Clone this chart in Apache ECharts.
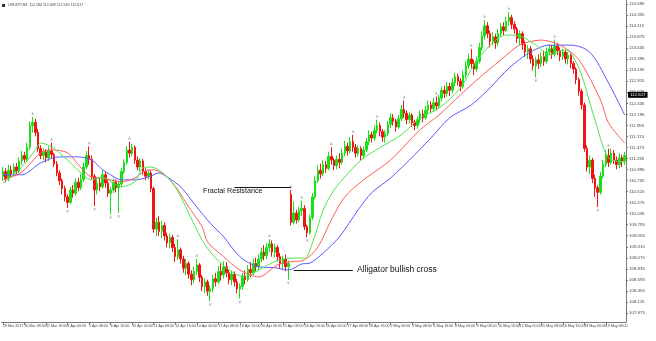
<!DOCTYPE html>
<html><head><meta charset="utf-8">
<script src="https://cdn.jsdelivr.net/npm/echarts@6/dist/echarts.min.js"></script>
<style>html,body{margin:0;padding:0;background:#fff}#c{width:656px;height:341px}</style>
</head><body><div id="c"></div>
<script>
// [open, close, low, high] per H4 bar
const candles = [
[110.85,110.95,110.75,111.05],[110.95,110.80,110.72,111.02],[110.80,110.98,110.74,111.10],[110.98,110.90,110.82,111.08],
[110.90,111.05,110.85,111.12],[111.05,110.96,110.90,111.14],[110.96,111.18,110.92,111.26],[111.18,111.30,111.10,111.40],
[111.30,111.22,111.15,111.38],[111.22,111.48,111.18,111.58],[111.48,111.95,111.42,112.05],[111.95,112.02,111.80,112.14],
[112.02,111.80,111.72,112.10],[111.80,111.45,111.38,111.88],[111.45,111.30,111.22,111.52],[111.30,111.38,111.20,111.46],
[111.38,111.25,111.15,111.44],[111.25,111.40,111.18,111.50],[111.40,111.32,111.24,111.58],[111.32,111.12,111.05,111.36],
[111.12,110.92,110.85,111.18],[110.92,110.75,110.66,110.98],[110.75,110.58,110.45,110.80],[110.58,110.40,110.30,110.64],
[110.40,110.28,110.16,110.46],[110.28,110.55,110.24,110.62],[110.55,110.48,110.38,110.66],[110.48,110.72,110.42,110.80],
[110.72,110.60,110.52,110.82],[110.60,110.78,110.55,110.90],[110.78,111.05,110.72,111.15],[111.05,111.30,111.00,111.40],
[111.30,111.22,111.10,111.50],[111.22,110.85,110.78,111.30],[110.85,110.55,110.20,110.90],[110.55,110.70,110.45,110.80],
[110.70,110.62,110.52,110.82],[110.62,110.88,110.58,110.98],[110.88,110.70,110.60,110.95],[110.70,110.48,110.40,110.76],
[110.48,110.55,110.02,110.62],[110.55,110.72,110.48,110.80],[110.72,110.60,110.50,110.78],[110.60,110.68,110.05,110.75],
[110.68,110.95,110.62,111.02],[110.95,111.15,110.90,111.22],[111.15,111.42,111.10,111.50],[111.42,111.35,111.25,111.60],
[111.35,111.48,111.28,111.55],[111.48,111.20,111.12,111.52],[111.20,111.05,110.98,111.28],[111.05,111.18,110.96,111.24],
[111.18,110.95,110.88,111.22],[110.95,110.85,110.76,111.02],[110.85,110.92,110.78,111.00],[110.92,110.58,110.50,110.98],
[110.58,109.70,109.62,110.62],[109.70,109.85,109.55,109.95],[109.85,109.65,109.55,109.98],[109.65,109.78,109.50,109.88],
[109.78,109.55,109.45,109.85],[109.55,109.40,109.30,109.62],[109.40,109.52,109.28,109.60],[109.52,109.30,109.20,109.58],
[109.30,109.10,108.98,109.38],[109.10,109.25,109.02,109.48],[109.25,109.05,108.95,109.30],[109.05,108.85,108.75,109.12],
[108.85,108.95,108.70,109.05],[108.95,108.72,108.62,109.00],[108.72,108.60,108.48,108.80],[108.60,108.78,108.52,108.88],
[108.78,108.92,108.70,109.05],[108.92,108.65,108.55,108.96],[108.65,108.45,108.35,108.70],[108.45,108.55,108.30,108.62],
[108.55,108.35,108.25,108.60],[108.35,108.40,108.13,108.48],[108.40,108.62,108.32,108.70],[108.62,108.55,108.45,108.75],
[108.55,108.78,108.50,108.90],[108.78,108.70,108.58,108.95],[108.70,108.88,108.62,109.00],[108.88,108.75,108.65,108.98],
[108.75,108.60,108.50,108.82],[108.60,108.72,108.48,108.80],[108.72,108.55,108.45,108.78],[108.55,108.40,108.30,108.62],
[108.40,108.45,108.19,108.52],[108.45,108.68,108.38,108.75],[108.68,108.60,108.50,108.80],[108.60,108.82,108.55,108.92],
[108.82,108.75,108.65,108.98],[108.75,108.95,108.70,109.05],[108.95,108.88,108.78,109.08],[108.88,109.05,108.80,109.15],
[109.05,109.20,108.98,109.30],[109.20,109.12,109.02,109.35],[109.12,109.30,109.05,109.40],[109.30,109.38,109.20,109.48],
[109.38,109.20,109.10,109.45],[109.20,109.30,109.08,109.38],[109.30,109.10,109.00,109.35],[109.10,108.95,108.85,109.18],
[108.95,109.05,108.82,109.12],[109.05,108.88,108.78,109.15],[108.88,108.95,108.60,109.02],[110.45,109.85,109.78,110.55],
[109.85,110.05,109.80,110.30],[110.05,109.90,109.82,110.12],[109.90,110.10,109.85,110.18],[110.10,110.15,109.98,110.32],
[110.15,109.75,109.68,110.22],[109.75,109.62,109.52,109.80],[109.62,109.95,109.58,110.02],[109.95,110.40,109.90,110.48],
[110.40,110.75,110.35,110.85],[110.75,110.98,110.70,111.08],[110.98,110.90,110.80,111.12],[110.90,111.10,110.85,111.20],
[111.10,111.02,110.92,111.18],[111.02,111.28,110.98,111.38],[111.28,111.20,111.10,111.48],[111.20,111.08,110.98,111.25],
[111.08,111.22,111.00,111.30],[111.22,111.15,111.02,111.35],[111.15,111.35,111.10,111.45],[111.35,111.50,111.28,111.62],
[111.50,111.40,111.30,111.58],[111.40,111.60,111.35,111.70],[111.60,111.48,111.38,111.75],[111.48,111.35,111.25,111.55],
[111.35,111.45,111.28,111.52],[111.45,111.30,111.18,111.50],[111.30,111.42,111.22,111.50],[111.42,111.60,111.38,111.68],
[111.60,111.75,111.52,111.85],[111.75,111.68,111.58,111.82],[111.68,111.85,111.62,111.95],[111.85,111.95,111.78,112.08],
[111.95,111.82,111.72,112.02],[111.82,111.70,111.60,111.88],[111.70,111.78,111.58,111.85],[111.78,111.98,111.72,112.05],
[111.98,112.12,111.90,112.22],[112.12,112.05,111.95,112.20],[112.05,111.92,111.82,112.10],[111.92,112.10,111.88,112.18],
[112.10,112.30,112.05,112.40],[112.30,112.22,112.12,112.50],[112.22,112.08,111.98,112.28],[112.08,112.18,112.00,112.25],
[112.18,112.02,111.92,112.22],[112.02,111.95,111.85,112.08],[111.95,112.08,111.88,112.15],[112.08,112.20,112.00,112.28],
[112.20,112.12,112.02,112.30],[112.12,112.28,112.08,112.38],[112.28,112.40,112.20,112.50],[112.40,112.32,112.22,112.48],
[112.32,112.45,112.25,112.55],[112.45,112.38,112.28,112.58],[112.38,112.55,112.32,112.62],[112.55,112.72,112.48,112.80],
[112.72,112.65,112.55,112.82],[112.65,112.80,112.58,112.90],[112.80,112.72,112.60,112.88],[112.72,112.88,112.65,112.98],
[112.88,113.02,112.80,113.10],[113.02,112.92,112.82,113.08],[112.92,112.80,112.70,112.98],[112.80,113.05,112.75,113.15],
[113.05,113.25,112.98,113.35],[113.25,113.40,113.18,113.52],[113.40,113.30,113.20,113.62],[113.30,113.18,113.05,113.38],
[113.18,113.35,113.12,113.45],[113.35,113.65,113.30,113.75],[113.65,113.90,113.58,114.00],[113.90,114.12,113.82,114.25],
[114.12,113.95,113.85,114.20],[113.95,113.78,113.65,114.02],[113.78,113.88,113.70,113.98],[113.88,113.75,113.62,113.95],
[113.75,113.95,113.68,114.05],[113.95,114.10,113.88,114.18],[114.10,114.02,113.92,114.20],[114.02,114.22,113.98,114.32],
[114.22,114.30,114.12,114.42],[114.30,114.15,114.05,114.36],[114.15,114.05,113.95,114.22],[114.05,113.85,113.75,114.10],
[113.85,113.95,113.70,114.02],[113.95,113.72,113.60,114.00],[113.72,113.55,113.45,113.80],[113.55,113.62,113.40,113.70],
[113.62,113.40,113.30,113.68],[113.40,113.25,113.15,113.48],[113.25,113.38,113.00,113.45],[113.38,113.30,113.18,113.50],
[113.30,113.45,113.22,113.55],[113.45,113.35,113.25,113.58],[113.35,113.55,113.30,113.65],[113.55,113.62,113.48,113.72],
[113.62,113.50,113.40,113.70],[113.50,113.68,113.45,113.82],[113.68,113.58,113.48,113.75],[113.58,113.45,113.35,113.65],
[113.45,113.55,113.38,113.62],[113.55,113.40,113.30,113.60],[113.40,113.48,113.28,113.55],[113.48,113.30,113.20,113.52],
[113.30,113.18,113.08,113.35],[113.18,112.95,112.85,113.22],[112.95,112.70,112.60,113.00],[112.70,112.40,112.30,112.75],
[112.40,111.45,111.38,112.45],[111.45,111.05,110.95,111.52],[111.05,111.20,110.90,111.30],[111.20,110.80,110.70,111.25],
[110.80,110.60,110.40,110.88],[110.60,110.50,110.18,110.65],[110.50,110.85,110.45,110.95],[110.85,111.10,110.80,111.20],
[111.10,111.30,111.05,111.42],[111.30,111.15,111.05,111.45],[111.15,111.35,111.10,111.45],[111.35,111.20,111.12,111.42],
[111.20,111.10,111.00,111.28],[111.10,111.25,111.02,111.35],[111.25,111.18,111.05,111.32],[111.18,111.30,111.10,111.38]
];

// Alligator lines, read as [bar index, price]
const jaw = [[0,110.88],[7,110.88],[14,111.14],[21,111.27],[28,111.27],[33,111.20],[37,110.99],[40,110.88],[44,110.77],[49,110.77],[54,110.83],[58,110.92],[61,110.83],[66,110.62],[70,110.33],[72,110.18],[77,109.83],[82,109.53],[88,109.10],[95,108.88],[101,108.86],[106,108.81],[111,108.94],[114,108.96],[119,109.18],[125,109.53],[132,110.12],[137,110.49],[144,110.81],[151,111.20],[159,111.68],[166,112.12],[174,112.40],[181,112.77],[188,113.20],[196,113.55],[203,113.70],[211,113.70],[218,113.55],[225,112.88],[231,112.18]];
const teeth = [[0,110.77],[7,110.94],[14,111.36],[18,111.42],[24,111.36],[28,111.10],[33,110.83],[37,110.81],[44,110.73],[49,110.81],[52,110.94],[56,110.99],[61,110.83],[65,110.55],[69,110.18],[74,109.75],[76,109.42],[82,109.10],[88,108.81],[95,108.66],[102,108.92],[107,108.99],[112,109.03],[117,109.31],[122,109.90],[127,110.40],[134,110.77],[144,111.20],[155,111.86],[162,112.18],[170,112.62],[177,112.99],[185,113.38],[192,113.70],[200,113.81],[207,113.70],[214,113.38],[222,112.51],[225,112.01],[231,111.57]];
const lips = [[0,110.70],[7,111.05],[12,111.42],[14,111.57],[18,111.49],[24,111.20],[29,110.92],[33,110.77],[37,110.83],[40,110.73],[44,110.62],[49,110.73],[52,111.03],[55,111.05],[59,110.94],[64,110.62],[69,110.05],[74,109.46],[79,109.07],[85,108.77],[90,108.66],[95,108.81],[101,108.99],[107,109.07],[112,109.07],[115,109.40],[119,110.12],[123,110.55],[127,110.83],[133,111.20],[140,111.47],[148,111.75],[155,112.12],[162,112.33],[170,112.77],[175,113.27],[181,113.70],[187,113.92],[192,113.90],[198,113.70],[203,113.49],[209,113.60],[214,113.20],[220,112.07],[225,111.25],[231,111.16]];

const fractalUp = [[11,112.22],[18,111.66],[32,111.58],[47,111.68],[65,109.56],[72,109.13],[99,109.56],[107,110.63],[111,110.40],[122,111.56],[130,111.83],[139,112.16],[149,112.58],[161,112.66],[174,113.70],[179,114.33],[188,114.50],[205,113.90],[225,111.53]];
const fractalDown = [[24,110.08],[34,110.12],[40,109.94],[43,109.97],[77,108.05],[88,108.11],[106,108.52],[113,109.44],[198,112.92],[221,110.10]];

const yTicks = [107.875,108.115,108.355,108.595,108.835,109.075,109.315,109.555,109.795,110.035,110.275,110.515,110.755,110.995,111.235,111.475,111.715,111.955,112.195,112.435,112.675,112.915,113.155,113.395,113.635,113.875,114.115,114.355,114.595];
const xLabelIndex = [0,8,16,24,32,40,48,56,64,72,80,88,96,104,112,120,128,136,144,152,160,168,176,184,192,200,208,216,224,231];
const xLabelText = ["29 Mar 2017","30 Mar 08:00","31 Mar 16:00","4 Apr 00:00","5 Apr 08:00","6 Apr 16:00","10 Apr 00:00","11 Apr 08:00","12 Apr 16:00","14 Apr 00:00","17 Apr 08:00","18 Apr 16:00","20 Apr 00:00","21 Apr 08:00","24 Apr 16:00","26 Apr 00:00","27 Apr 08:00","28 Apr 16:00","2 May 00:00","3 May 08:00","4 May 16:00","8 May 00:00","9 May 08:00","10 May 16:00","12 May 00:00","15 May 08:00","16 May 16:00","18 May 00:00","19 May 08:00","19 May 20:00"];
const lastPrice = 112.617;
const titleText = "USDJPY,H4  112.580 112.649 112.549 112.617";
const resistanceLine = {from: 86, to: 107, price: 110.62};
const crossLine = {from: 108, to: 130, price: 108.81};

const cats = candles.map((_, i) => String(i));
const labelMap = {};
xLabelIndex.forEach((idx, k) => { labelMap[idx] = xLabelText[k]; });
const FONT = "'Liberation Sans', Arial, sans-serif";

const chart = echarts.init(document.getElementById('c'), null, {renderer: 'canvas'});
chart.setOption({
  animation: false,
  backgroundColor: '#ffffff',
  grid: {left: 0, right: 30, top: 0, bottom: 19},
  xAxis: {
    type: 'category', data: cats, boundaryGap: true,
    axisLine: {show: true, lineStyle: {color: '#777', width: 1}},
    axisTick: {show: true, length: 3, alignWithLabel: true, lineStyle: {color: '#777'},
      interval: (i) => labelMap[i] !== undefined},
    axisLabel: {show: true, fontSize: 3.6, color: '#444', fontFamily: FONT, margin: 2, align: 'left',
      interval: (i) => labelMap[i] !== undefined,
      formatter: (v, i) => labelMap[i] || ''},
    splitLine: {show: false}
  },
  yAxis: {
    type: 'value', position: 'right', min: 107.679, max: 114.682, scale: true,
    axisLine: {show: true, lineStyle: {color: '#777', width: 1}},
    axisTick: {show: true, length: 2, lineStyle: {color: '#777'}, customValues: yTicks},
    axisLabel: {show: true, fontSize: 4.4, color: '#444', fontFamily: FONT, margin: 3,
      customValues: yTicks, formatter: (v) => v.toFixed(3)},
    splitLine: {show: false}
  },
  series: [
    {
      type: 'candlestick', data: candles, barWidth: 2,
      itemStyle: {color: '#16e016', color0: '#f01414', borderColor: '#16e016', borderColor0: '#f01414', borderWidth: 1},
      markLine: {
        symbol: ['none', 'none'], silent: true,
        data: [
          [{coord: [resistanceLine.from, resistanceLine.price], lineStyle: {color: '#111', width: 1, type: 'solid'}, label: {show: false}},
           {coord: [resistanceLine.to, resistanceLine.price]}],
          [{coord: [crossLine.from, crossLine.price], lineStyle: {color: '#111', width: 1, type: 'solid'}, label: {show: false}},
           {coord: [crossLine.to, crossLine.price]}]
        ]
      }
    },
    {
      type: 'line', data: [], silent: true,
      markLine: {
        symbol: ['none', 'none'], silent: true,
        data: [{yAxis: lastPrice, lineStyle: {color: 'rgba(0,0,0,0)', width: 0},
          label: {show: true, position: 'end', formatter: lastPrice.toFixed(3), backgroundColor: '#000', color: '#fff',
                  fontSize: 4.4, fontFamily: FONT, padding: [1, 2], distance: 2}}]
      }
    },
    {type: 'line', data: jaw, symbol: 'none', smooth: 0.3, lineStyle: {color: '#5a5aff', width: 1}, z: 3},
    {type: 'line', data: teeth, symbol: 'none', smooth: 0.3, lineStyle: {color: '#ff5a5a', width: 1}, z: 3},
    {type: 'line', data: lips, symbol: 'none', smooth: 0.3, lineStyle: {color: '#4ee44e', width: 1}, z: 3},
    {type: 'scatter', data: fractalUp, symbol: 'triangle', symbolSize: 3, itemStyle: {color: '#aaaaaa'}, z: 4},
    {type: 'scatter', data: fractalDown, symbol: 'triangle', symbolRotate: 180, symbolSize: 3, itemStyle: {color: '#aaaaaa'}, z: 4}
  ],
  graphic: [
    {type: 'rect', left: 2, top: 4, shape: {width: 3, height: 3}, style: {fill: '#333'}},
    {type: 'text', left: 8, top: 3, style: {text: titleText, font: '3.6px ' + FONT, fill: '#444'}},
    {type: 'text', left: 203, top: 188, style: {text: 'Fractal Resistance', font: '7.2px ' + FONT, fill: '#111'}},
    {type: 'text', left: 357, top: 265, style: {text: 'Alligator bullish cross', font: '8.5px ' + FONT, fill: '#111'}}
  ]
});
</script></body></html>
